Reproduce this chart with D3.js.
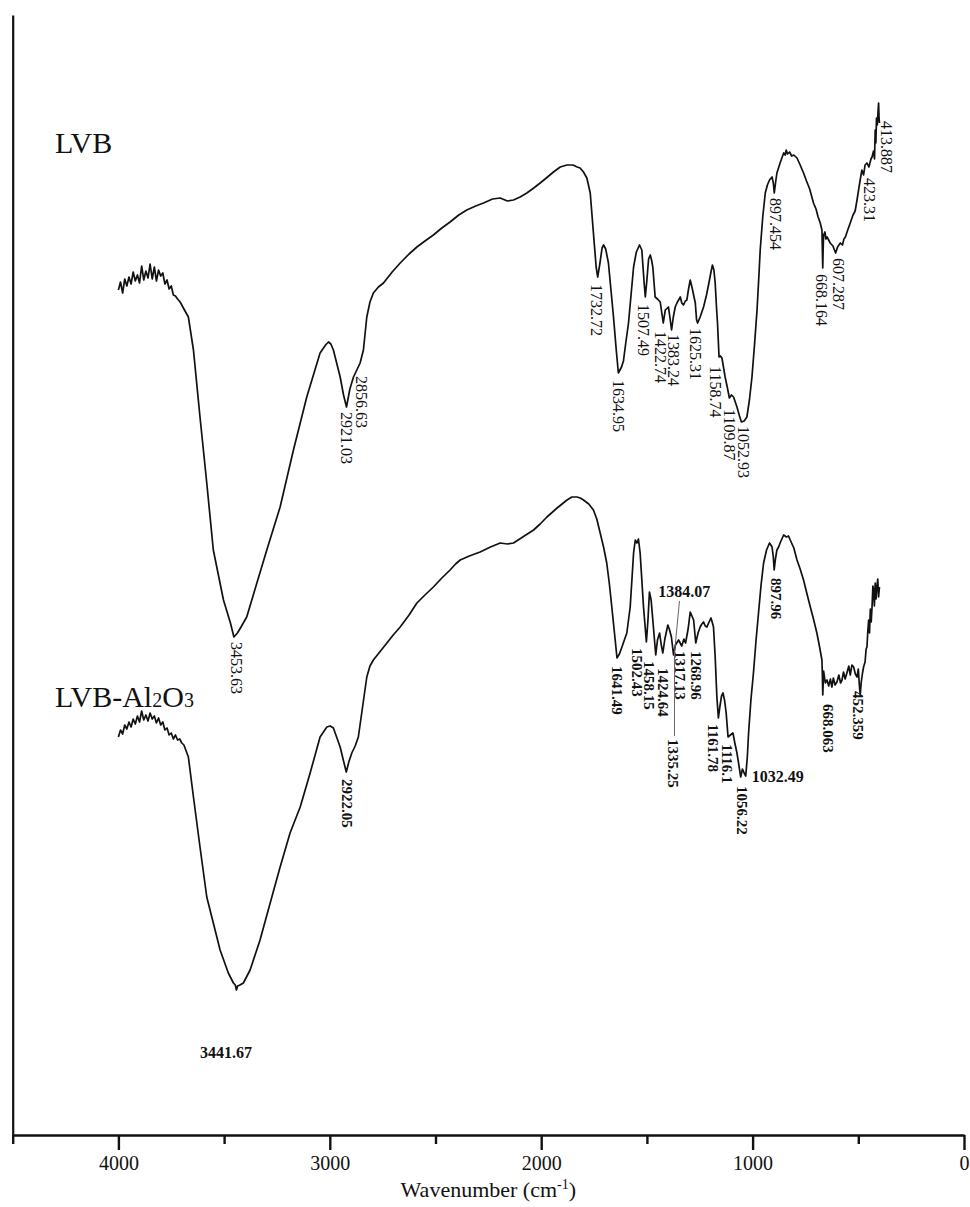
<!DOCTYPE html>
<html>
<head>
<meta charset="utf-8">
<script src="https://cdn.jsdelivr.net/npm/d3@7"></script>
<style>
  html, body { margin: 0; padding: 0; background: #fff; }
  svg text { font-family: "Liberation Serif", "Times New Roman", serif; fill: #111; }
</style>
</head>
<body>
<svg id="chart" width="970" height="1207"></svg>
<script>
// FTIR spectra: [wavenumber (cm-1), transmittance (a.u., offset per trace)]
const lvbSpectrum = [
  [4000,84.5],[3990,85.3],[3980,84.2],[3970,85.6],[3960,84.9],[3950,85.8],[3940,85.1],[3930,86.3],
  [3920,85.4],[3910,86.0],[3900,85.2],[3890,86.9],[3880,85.5],[3870,86.4],[3860,85.7],[3850,87.1],
  [3840,85.6],[3830,86.8],[3820,85.4],[3810,86.5],[3800,85.9],[3790,86.2],[3780,85.1],[3770,85.5],
  [3760,84.6],[3750,84.9],[3740,84.0],[3730,83.9],[3720,83.6],[3708,83.3],[3690,82.6],[3669,81.8],
  [3645,78.5],[3614,71.8],[3582,65.2],[3551,58.5],[3503,53.5],[3470,51.2],[3453.63,49.8],[3437,50.2],
  [3420,50.8],[3393,51.8],[3345,55.2],[3298,58.5],[3235,62.8],[3172,68.5],[3109,73.8],[3046,78.2],
  [3020,79.0],[3006,79.3],[2995,79.1],[2983,78.5],[2951,75.8],[2935,74.0],[2921.03,72.8],[2905,74.6],
  [2888,75.8],[2870,76.6],[2856.63,77.2],[2841,78.5],[2825,81.8],[2810,83.3],[2794,84.2],[2770,84.8],
  [2746,85.2],[2705,86.3],[2667,87.2],[2625,88.1],[2588,88.8],[2550,89.4],[2510,90.0],[2470,90.7],
  [2431,91.3],[2390,92.0],[2352,92.5],[2310,92.9],[2273,93.2],[2230,93.6],[2194,93.7],[2160,93.4],
  [2131,93.5],[2100,93.8],[2068,94.2],[2035,94.7],[2005,95.2],[1970,95.8],[1942,96.3],[1910,96.8],
  [1878,97.0],[1850,97.0],[1830,96.8],[1816,96.7],[1800,96.3],[1784,95.7],[1768,94.2],[1753,90.2],
  [1740,86.8],[1732.72,85.8],[1722,87.2],[1712,88.7],[1705,89.0],[1695,88.6],[1682,87.2],[1670,84.5],
  [1658,81.8],[1645,78.5],[1634.95,76.2],[1620,76.8],[1611,77.4],[1600,79.2],[1587,81.2],[1575,84.0],
  [1563,86.8],[1550,88.3],[1535,89.0],[1524,88.5],[1513,85.2],[1507.49,83.8],[1500,85.5],[1492,87.6],
  [1484,88.0],[1478,87.5],[1472,86.8],[1461,83.8],[1450,83.6],[1437,83.3],[1428,82.0],[1422.74,81.2],
  [1413,82.5],[1398,82.8],[1390,81.6],[1383.24,80.5],[1375,81.8],[1366,82.8],[1358,83.2],[1342,83.8],
  [1335,83.2],[1327,83.0],[1318,83.4],[1311,83.5],[1303,84.6],[1295,85.5],[1287,84.8],[1279,84.0],
  [1271,83.2],[1265,81.5],[1260,81.2],[1248,81.8],[1232,82.8],[1218,84.0],[1204,85.5],[1196,86.4],
  [1190,87.0],[1183,86.5],[1177,85.2],[1170,82.5],[1166,81.2],[1158.74,77.8],[1152,77.9],[1145,77.7],
  [1137,76.7],[1130,75.8],[1120,74.8],[1109.87,73.7],[1100,74.0],[1090,73.8],[1082,73.3],[1074,72.8],
  [1062,71.9],[1052.93,71.3],[1040,71.4],[1027,71.8],[1015,73.5],[1003,75.8],[991,79.0],[979,82.5],
  [970,86.0],[964,88.5],[952,91.8],[940,94.2],[930,95.0],[920,95.5],[908,95.8],[902,95.2],
  [897.454,94.2],[891,95.3],[885,96.2],[870,97.2],[853,98.2],[846,98.0],[841,98.5],[835,98.1],
  [825,98.3],[815,97.9],[805,98.0],[790,97.7],[775,97.0],[759,96.2],[745,95.4],[730,94.6],
  [712,93.2],[700,92.6],[690,91.8],[680,91.2],[672,90.5],[669.5,88.0],[668.164,86.7],[666,88.8],
  [664,90.0],[658,90.3],[653,89.6],[648,89.8],[640,89.5],[633,89.2],[620,88.9],[607.287,88.2],
  [598,88.8],[585,89.2],[575,89.0],[568,89.6],[561,89.8],[550,90.5],[538,91.2],[525,92.0],
  [515,92.4],[506,93.5],[495,95.0],[483,96.5],[475,96.0],[468,97.0],[459,97.2],[450,96.8],
  [440,97.6],[435,97.8],[428,98.4],[423.31,97.6],[420,100.5],[417,99.2],[413.887,101.7],[410,101.0],
  [407,102.2],[404,103.2],[402,101.8],[400,101.2]
];

const lvbAl2O3Spectrum = [
  [4000,39.8],[3990,40.5],[3980,40.1],[3970,41.0],[3960,40.6],[3950,41.3],[3940,40.8],[3930,41.6],
  [3920,41.1],[3910,41.9],[3900,41.3],[3890,42.4],[3880,41.5],[3870,42.0],[3860,41.4],[3850,42.2],
  [3840,41.6],[3830,41.9],[3820,41.2],[3810,41.7],[3800,41.0],[3790,41.3],[3780,40.5],[3770,40.7],
  [3760,40.0],[3750,40.2],[3740,39.6],[3730,40.0],[3720,39.5],[3710,39.6],[3700,39.2],[3690,39.0],
  [3669,37.8],[3645,33.8],[3614,28.8],[3582,23.8],[3551,21.2],[3519,18.5],[3480,16.2],[3456,15.2],
  [3447,15.0],[3441.67,14.5],[3436,14.9],[3425,15.0],[3409,15.2],[3377,16.5],[3330,19.5],[3282,23.2],
  [3235,26.8],[3188,30.2],[3140,32.8],[3093,36.2],[3046,39.8],[3014,40.8],[2998,40.9],[2983,40.7],
  [2951,38.8],[2935,37.4],[2922.05,36.3],[2910,37.3],[2896,38.2],[2880,38.9],[2865,39.8],[2849,42.2],
  [2825,45.8],[2810,46.9],[2794,47.5],[2760,48.4],[2730,49.2],[2700,50.0],[2667,50.8],[2625,52.0],
  [2588,53.2],[2550,54.0],[2510,54.8],[2470,55.7],[2431,56.5],[2405,57.1],[2383,57.5],[2340,57.9],
  [2289,58.3],[2240,58.8],[2194,59.2],[2160,59.1],[2131,59.2],[2080,59.9],[2036,60.5],[2005,61.1],
  [1973,61.8],[1925,62.7],[1878,63.5],[1855,63.8],[1831,63.8],[1815,63.7],[1800,63.5],[1775,63.1],
  [1753,62.5],[1737,61.6],[1721,60.2],[1705,58.8],[1690,57.2],[1678,55.2],[1666,52.8],[1650,49.5],
  [1641.49,47.7],[1630,48.1],[1618,48.8],[1605,49.6],[1595,50.2],[1579,52.8],[1563,58.2],[1555,59.5],
  [1547,59.2],[1540,59.6],[1532,58.2],[1516,52.8],[1502.43,49.3],[1495,51.5],[1488,54.3],[1480,53.5],
  [1472,51.5],[1458.15,48.0],[1450,49.5],[1440,50.2],[1432,49.0],[1424.64,48.2],[1415,49.6],[1401,51.0],
  [1394,50.6],[1384.07,49.8],[1374,48.0],[1365,49.0],[1350,49.5],[1335.25,48.9],[1325,49.6],[1317.13,49.2],
  [1305,50.6],[1295,52.3],[1285,51.8],[1279,51.5],[1268.96,49.2],[1258,50.2],[1248,50.8],[1240,51.1],
  [1232,51.3],[1224,50.9],[1216,50.8],[1206,51.3],[1197,51.7],[1190,51.2],[1185,50.8],[1177,47.8],
  [1169,43.8],[1161.78,41.7],[1155,42.8],[1147,43.9],[1140,44.2],[1132,43.4],[1125,42.2],[1116.1,39.8],
  [1105,40.0],[1093,40.2],[1084,39.2],[1074,38.2],[1065,37.0],[1056.22,35.8],[1048,36.6],[1040,36.2],
  [1032.49,35.9],[1025,37.8],[1019,40.2],[1008,43.5],[996,46.2],[984,49.4],[972,52.2],[960,55.0],
  [948,57.2],[934,58.5],[920,59.2],[908,58.8],[902,57.8],[897.96,56.5],[892,57.6],[885,58.5],
  [877,58.8],[868,59.3],[853,60.0],[840,59.8],[830,59.9],[822,59.5],[805,58.7],[790,57.5],
  [775,56.6],[759,55.5],[745,54.3],[727,52.8],[712,51.6],[696,50.2],[684,48.9],[672,47.5],
  [670,46.0],[668.063,44.0],[664,46.4],[656,45.2],[648,45.5],[640,44.9],[632,45.6],[625,44.8],
  [618,45.7],[610,45.0],[601,45.3],[592,46.0],[584,45.2],[577,45.5],[570,46.3],[562,45.6],
  [554,46.2],[545,46.9],[538,46.0],[530,47.0],[522,46.8],[514,46.1],[506,45.8],[500,46.6],
  [495,45.0],[491,44.0],[486,45.3],[480,46.2],[475,46.8],[468,47.3],[463,48.6],[459,48.8],
  [455,50.4],[451,51.5],[447,50.2],[443,52.6],[439,51.3],[435,52.8],[431,54.9],[428,54.5],
  [424,52.9],[420,55.2],[416,53.6],[412,54.8],[408,55.6],[404,53.8],[400,54.8]
];

// Peak labels: [text, wavenumber anchor, transmittance where the label starts]
const lvbPeakLabels = [
  ["3453.63",3440,49.3],["2921.03",2919,72.3],["2856.63",2849,75.9],["1732.72",1740,85.1],
  ["1634.95",1634,75.5],["1507.49",1514,83.1],["1422.74",1436,80.4],["1383.24",1372,80.1],
  ["1625.31",1271,80.7],["1158.74",1174,76.9],["1109.87",1110,72.6],["1052.93",1043,70.9],
  ["897.454",891,93.7],["668.164",674,86.1],["607.287",593,87.7],["423.31",448,95.7],
  ["413.887",368,101.4]
];
const lvbAl2O3PeakLabels = [
  ["2922.05",2919,35.6],["1641.49",1642,46.9],["1502.43",1545,48.7],["1458.15",1488,47.4],
  ["1424.64",1423,46.7],["1317.13",1344,48.4],["1268.96",1265,48.4],["1335.25",1374,39.6],
  ["1161.78",1186,41.1],["1116.1",1119,39.1],["1056.22",1050,34.9],["897.96",887,55.7],
  ["668.063",641,43.1],["452.359",502,44.4]
];
// Horizontal labels: [text, wavenumber at text centre, transmittance at baseline]
const lvbAl2O3FlatLabels = [
  ["3441.67",3491,7.7],["1384.07",1323,53.8],["1032.49",881,35.3]
];
// Leader line for the 1384.07 / 1335.25 pair: [wavenumber, transmittance]
const leaderPoints = [[1346,53.4],[1369.5,48.2],[1369.5,39.9]];

// Series names: [name, subscripted parts, wavenumber, transmittance at baseline]
const seriesNames = [
  { parts: [["LVB", false]], at: [4300, 98.2] },
  { parts: [["LVB-Al", false], ["2", true], ["O", false], ["3", true]], at: [4300, 42.8] }
];

const axisTicks = [4500, 4000, 3500, 3000, 2500, 2000, 1500, 1000, 500, 0];

const svg = d3.select("#chart");
const x = d3.scaleLinear().domain([4500, 0]).range([12.7, 964]);
const y = d3.scaleLinear().domain([0, 112]).range([1135, 15]);

// Left frame line
svg.append("g")
  .attr("transform", `translate(${x(4500)},0)`)
  .call(d3.axisLeft(y).tickValues([]).tickSizeOuter(0))
  .call(g => g.select(".domain").attr("stroke", "#111").attr("stroke-width", 2.2));

// Bottom axis
const xAxis = svg.append("g")
  .attr("transform", `translate(0,${y(0)})`)
  .call(d3.axisBottom(x).tickValues(axisTicks).tickSizeOuter(0)
    .tickFormat(d => d % 1000 === 0 ? d : ""))
  .attr("font-family", null).attr("font-size", null);
xAxis.select(".domain").attr("stroke", "#111").attr("stroke-width", 2.6);
xAxis.selectAll(".tick line")
  .attr("stroke", "#111").attr("stroke-width", 2.4)
  .attr("y2", d => d % 1000 === 0 ? 15 : 9);
xAxis.selectAll(".tick text")
  .attr("y", 21).style("font-size", "20px");

// Axis title
const title = svg.append("text")
  .attr("x", (x(4500) + x(0)) / 2).attr("y", 1197)
  .attr("text-anchor", "middle").style("font-size", "22px");
title.append("tspan").text("Wavenumber (cm");
title.append("tspan").attr("dy", -8).style("font-size", "14px").text("-1");
title.append("tspan").attr("dy", 8).text(")");

// Spectra
const line = d3.line().x(d => x(d[0])).y(d => y(d[1]));
[lvbSpectrum, lvbAl2O3Spectrum].forEach(series => {
  svg.append("path").datum(series)
    .attr("d", line).attr("fill", "none")
    .attr("stroke", "#111").attr("stroke-width", 1.7)
    .attr("stroke-linejoin", "round");
});

// Rotated peak labels (read top to bottom)
function rotatedLabels(list, size, weight) {
  svg.append("g").selectAll("text").data(list).join("text")
    .attr("transform", d => `translate(${x(d[1])},${y(d[2])}) rotate(90)`)
    .attr("dy", "0.35em")
    .style("font-size", size + "px").style("font-weight", weight)
    .text(d => d[0]);
}
rotatedLabels(lvbPeakLabels, 16, "normal");
rotatedLabels(lvbAl2O3PeakLabels, 15, "bold");

svg.append("g").selectAll("text").data(lvbAl2O3FlatLabels).join("text")
  .attr("x", d => x(d[1])).attr("y", d => y(d[2]))
  .attr("text-anchor", "middle")
  .style("font-size", "16px").style("font-weight", "bold")
  .text(d => d[0]);

svg.append("path").datum(leaderPoints)
  .attr("d", line).attr("fill", "none")
  .attr("stroke", "#666").attr("stroke-width", 1);

// Series names
seriesNames.forEach(s => {
  const t = svg.append("text")
    .attr("x", x(s.at[0])).attr("y", y(s.at[1]))
    .style("font-size", "30px");
  s.parts.forEach(([txt, sub]) => {
    t.append("tspan").style("font-size", sub ? "20px" : "30px").text(txt);
  });
});
</script>
</body>
</html>
